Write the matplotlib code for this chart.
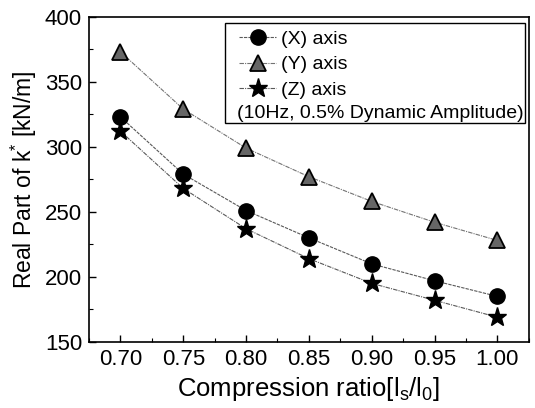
import matplotlib
matplotlib.use("Agg")
import matplotlib.pyplot as plt
from matplotlib.patches import Rectangle
from matplotlib.ticker import MultipleLocator

plt.rcParams['font.family'] = ['Liberation Sans', 'DejaVu Sans']
plt.rcParams['mathtext.fontset'] = 'custom'
plt.rcParams['mathtext.rm'] = 'Liberation Sans'
plt.rcParams['mathtext.it'] = 'Liberation Sans:italic'

# compression ratio and real part of k* [kN/m]
ratio = [0.70, 0.75, 0.80, 0.85, 0.90, 0.95, 1.00]
x_axis = [323, 279, 251, 230, 210, 197, 185]
y_axis = [373, 329, 299, 277, 258, 242, 228]
z_axis = [312, 268, 237, 214, 195, 182, 169]
labels = ['(X) axis', '(Y) axis', '(Z) axis']
note = '(10Hz, 0.5% Dynamic Amplitude)'

fig = plt.figure(figsize=(5.35, 4.08), dpi=100)
ax = fig.add_axes([0.1664, 0.162, 0.822, 0.797])

ax.plot(ratio, x_axis, color='0.35', lw=0.8, ls=(0, (3, 1)),
        marker='o', ms=11, mfc='black', mec='black', label=labels[0])
ax.plot(ratio, y_axis, color='0.45', lw=0.8, ls=(0, (4, 1, 1, 1)),
        marker='^', ms=11, mfc='0.4', mec='black', mew=1.3, label=labels[1])
ax.plot(ratio, z_axis, color='0.35', lw=0.8, ls=(0, (4, 1, 1, 1)),
        marker='*', ms=14, mfc='black', mec='black', label=labels[2])

ax.set_xlim(0.675, 1.025)
ax.set_ylim(150, 400)
ax.set_xticks(ratio)
ax.set_xticklabels([f'{r:.2f}' for r in ratio])
ax.xaxis.set_minor_locator(MultipleLocator(0.025))
ax.yaxis.set_major_locator(MultipleLocator(50))
ax.yaxis.set_minor_locator(MultipleLocator(25))
ax.tick_params(which='both', direction='in', labelsize=16, top=False, right=False)
ax.tick_params(which='major', length=5, width=1, pad=5)
ax.tick_params(which='minor', length=3, width=0.8)
for s in ax.spines.values():
    s.set_linewidth(1.2)

ax.set_xlabel(r'Compression ratio[l$_\mathregular{s}$/l$_\mathregular{0}$]', fontsize=18.5, labelpad=4)
ax.set_ylabel(r'Real Part of k$^\mathregular{*}$ [kN/m]', fontsize=16.5, labelpad=4)

# legend box with the extra note line
ax.add_patch(Rectangle((0.309, 0.674), 0.682, 0.308, transform=ax.transAxes,
                       fill=False, lw=1.0, ec='black', zorder=5))
ax.legend(loc='upper left', bbox_to_anchor=(0.309, 1.003), frameon=False,
          fontsize=14, handlelength=1.9, handletextpad=0.25,
          labelspacing=0.4, borderpad=0.25)
ax.text(0.336, 0.703, note, transform=ax.transAxes, fontsize=14, va='center')

fig.savefig('out.png', dpi=100)
